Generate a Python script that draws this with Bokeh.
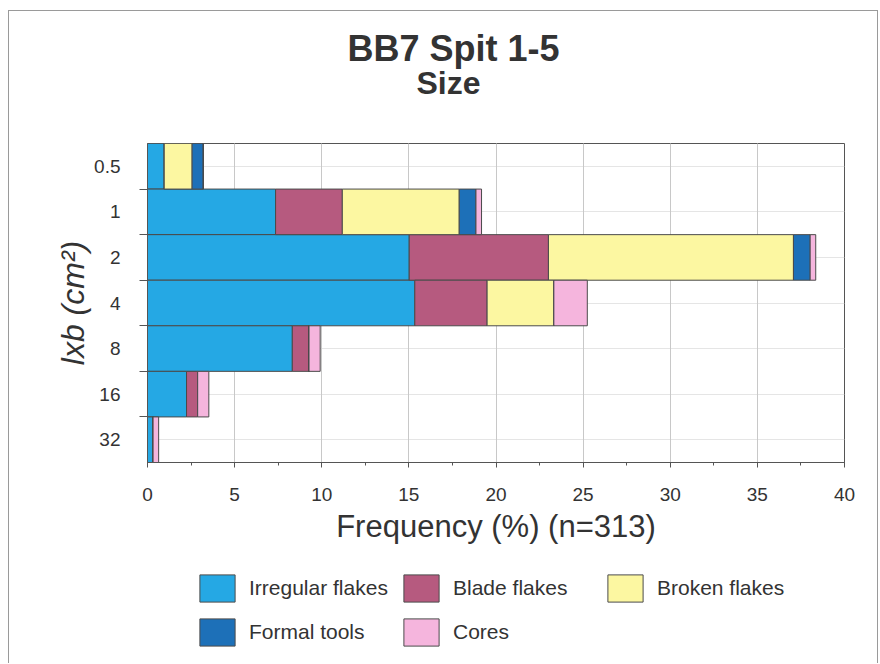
from bokeh.plotting import figure
from bokeh.layouts import column
from bokeh.models import (ColumnDataSource, FactorRange, Range1d, CategoricalAxis, LinearAxis,
                          SingleIntervalTicker, Legend, LegendItem, Title, Grid)
from bokeh.embed import file_html
from bokeh.resources import INLINE

# ---- data (percent of n=313) ----
sizes = ["0.5", "1", "2", "4", "8", "16", "32"]
irregular = [0.96, 7.35, 15.02, 15.34, 8.31, 2.24, 0.32]
blade = [0.0, 3.83, 7.99, 4.15, 0.96, 0.64, 0.0]
broken = [1.60, 6.71, 14.06, 3.83, 0.0, 0.0, 0.0]
formal = [0.64, 0.96, 0.96, 0.0, 0.0, 0.0, 0.0]
cores = [0.0, 0.32, 0.32, 1.92, 0.64, 0.64, 0.32]
series_keys = ["irregular", "blade", "broken", "formal", "cores"]
series_names = ["Irregular flakes", "Blade flakes", "Broken flakes", "Formal tools", "Cores"]
colors = ["#25a8e4", "#b65a7f", "#fcf7a1", "#1d70b8", "#f5b5dd"]

FONT = "Liberation Sans"
TXT = "#333333"
EDGE = "#4a4a4a"

source = ColumnDataSource(dict(size=sizes, irregular=irregular, blade=blade,
                               broken=broken, formal=formal, cores=cores))

p = figure(width=868, height=552, x_range=Range1d(0, 40),
           y_range=FactorRange(factors=list(reversed(sizes))),
           output_backend="svg", toolbar_location=None,
           x_axis_location=None, y_axis_location=None,
           min_border_left=138, min_border_right=33, min_border_top=132, min_border_bottom=101)
p.title = None
p.outline_line_color = "#555555"
p.background_fill_color = "white"
p.border_fill_color = "white"

# x axis
xticker = SingleIntervalTicker(interval=5, num_minor_ticks=2)
xaxis = LinearAxis(ticker=xticker, axis_label="Frequency (%) (n=313)",
                   axis_line_color="#555555", major_tick_line_color="#555555",
                   minor_tick_line_color="#555555",
                   major_tick_out=5, major_tick_in=0, minor_tick_out=3, minor_tick_in=0,
                   major_label_standoff=20, axis_label_standoff=5,
                   major_label_text_font=FONT, major_label_text_font_size="19px",
                   major_label_text_color=TXT,
                   axis_label_text_font=FONT, axis_label_text_font_size="31px",
                   axis_label_text_font_style="normal", axis_label_text_color=TXT)
p.add_layout(xaxis, "below")
p.add_layout(Grid(dimension=0, ticker=xticker, grid_line_color="#c8c8c8"))

# y axes: boundary ticks next to the frame (helper categorical range whose
# centres fall on the row boundaries), then the category labels
boundary_factors = [" " * (i + 1) for i in range(len(sizes) - 1)]
p.extra_y_ranges = {"rows": FactorRange(factors=boundary_factors, range_padding=0.5,
                                        range_padding_units="absolute")}
ytick_axis = CategoricalAxis(y_range_name="rows",
                             major_tick_out=8, major_tick_in=0,
                             major_label_standoff=0, axis_line_color="#555555",
                             major_tick_line_color="#555555", major_label_text_font_size="1px")
p.add_layout(ytick_axis, "left")
ycat = CategoricalAxis(axis_label="lxb (cm²)", axis_line_color=None, major_tick_line_color=None,
                       major_tick_out=0, major_tick_in=0, major_label_standoff=14,
                       axis_label_standoff=0,
                       major_label_text_font=FONT, major_label_text_font_size="19px",
                       major_label_text_color=TXT,
                       axis_label_text_font=FONT, axis_label_text_font_size="32px",
                       axis_label_text_font_style="italic", axis_label_text_color=TXT)
p.add_layout(ycat, "left")

p.hbar_stack(series_keys, y="size", height=1.0, fill_color=colors,
             line_color=EDGE, line_width=1, source=source)

# titles (stacked outward from the frame: spacer, subtitle, title)
p.add_layout(Title(text=" ", text_font_size="10px", standoff=30), "above")
p.add_layout(Title(text="Size", align="left", offset=269, standoff=0,
                   text_font=FONT, text_font_size="32px", text_font_style="bold",
                   text_color=TXT), "above")
p.add_layout(Title(text="BB7 Spit 1-5", align="left", offset=200, standoff=-12,
                   text_font=FONT, text_font_size="36px", text_font_style="bold",
                   text_color=TXT), "above")

# legend strip below the chart (same stacked data, hidden; only the legend shows)
pl = figure(width=868, height=100, x_range=Range1d(0, 40),
            y_range=FactorRange(factors=list(reversed(sizes))),
            output_backend="svg", toolbar_location=None,
            x_axis_location=None, y_axis_location=None,
            min_border_left=0, min_border_right=0, min_border_top=0, min_border_bottom=0)
pl.outline_line_color = None
pl.background_fill_color = "white"
pl.border_fill_color = "white"
pl.grid.visible = False
swatches = pl.hbar_stack(series_keys, y="size", height=1.0, fill_color=colors,
                         line_color=EDGE, line_width=1, source=source)
for r in swatches:
    r.visible = False
legend = Legend(items=[LegendItem(label=n, renderers=[r]) for n, r in zip(series_names, swatches)],
                location=(48, 14), orientation="horizontal", ncols=3,
                glyph_width=44, glyph_height=34, label_height=34, label_width=140,
                label_standoff=10, spacing=10, padding=0, margin=0,
                border_line_color=None, background_fill_alpha=0,
                inactive_fill_alpha=0, click_policy="none",
                label_text_font=FONT, label_text_font_size="21px", label_text_color=TXT)
pl.add_layout(legend, "center")

layout = column(p, pl, spacing=0)
layout.styles = {"border-top": "1px solid #9a9a9a", "border-left": "1px solid #9a9a9a",
                 "border-right": "1px solid #9a9a9a", "margin-left": "8px", "margin-top": "10px"}

open("out.html", "w").write(file_html(layout, INLINE))
